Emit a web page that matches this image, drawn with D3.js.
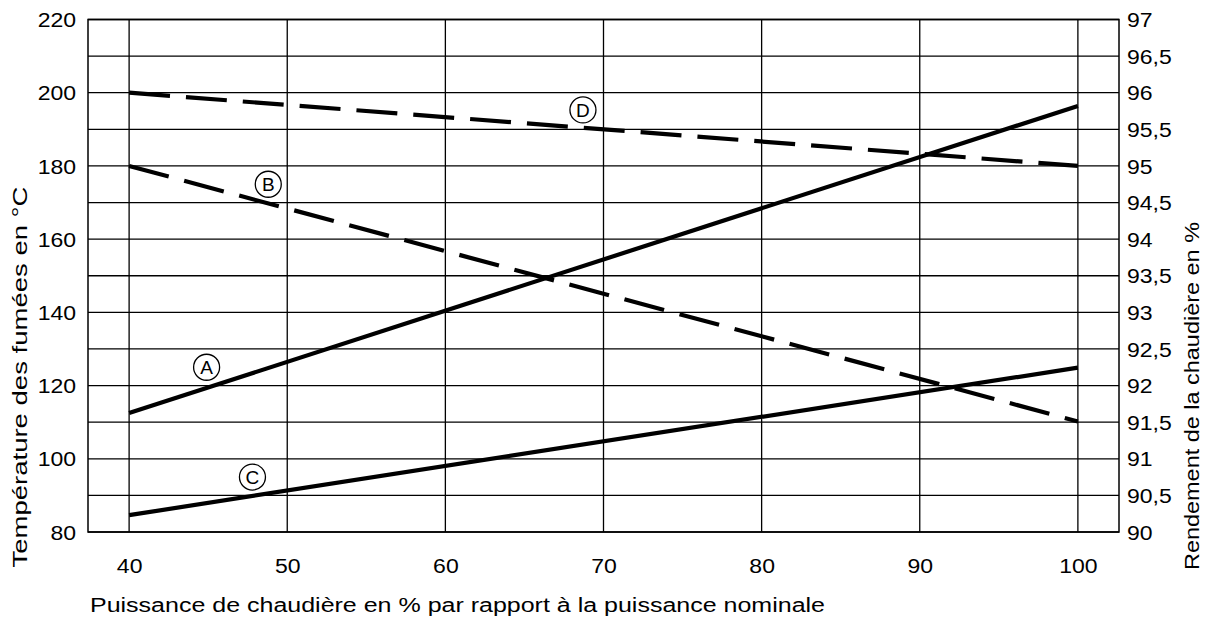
<!DOCTYPE html>
<html><head><meta charset="utf-8">
<script src="https://cdn.jsdelivr.net/npm/d3@7"></script>
<style>
html,body{margin:0;padding:0;background:#fff;}
text{font-family:"Liberation Sans",Arial,sans-serif;fill:#000;}
</style></head>
<body>
<svg id="c" width="1206" height="619"></svg>
<script>
// Data
const xValues = [40, 100];
const seriesA = [112.5, 196.4];   // solid
const seriesB = [180, 110.2];     // dashed
const seriesC = [84.6, 124.9];    // solid
const seriesD = [200, 180];       // dashed
const seriesNames = ["A", "B", "C", "D"];
const labelX = [44.9, 48.8, 47.8, 68.7];
const labelY = [125, 175, 95, 195.3];
const xTicks = [40, 50, 60, 70, 80, 90, 100];
const leftTicks = [80, 100, 120, 140, 160, 180, 200, 220];
const gridY = [80, 90, 100, 110, 120, 130, 140, 150, 160, 170, 180, 190, 200, 210, 220];
const rightTicks = [90, 90.5, 91, 91.5, 92, 92.5, 93, 93.5, 94, 94.5, 95, 95.5, 96, 96.5, 97];

const svg = d3.select("#c");
const L = 88, R = 1119, T = 19.5, B = 532;
const x = d3.scaleLinear().domain([37.4, 102.6]).range([L, R]);
const y = d3.scaleLinear().domain([80, 220]).range([B, T]);
const y2 = d3.scaleLinear().domain([90, 97]).range([B, T]);

function stretch(sel, k) {
  sel.each(function () {
    const w = this.getComputedTextLength();
    d3.select(this).attr("textLength", w * k).attr("lengthAdjust", "spacingAndGlyphs");
  });
}

// grid
const g = svg.append("g");
g.selectAll("line.h").data(gridY).join("line")
  .attr("x1", L).attr("x2", R).attr("y1", d => y(d)).attr("y2", d => y(d))
  .attr("stroke", "#000").attr("stroke-width", 1.3);
g.selectAll("line.v").data(xTicks).join("line")
  .attr("x1", d => x(d)).attr("x2", d => x(d)).attr("y1", T).attr("y2", B)
  .attr("stroke", "#000").attr("stroke-width", 1.3);
g.append("rect").attr("x", L).attr("y", T).attr("width", R - L).attr("height", B - T)
  .attr("fill", "none").attr("stroke", "#000").attr("stroke-width", 1.5);

// axes
const fs = 20, k = 1.15;
const ff = "Liberation Sans, Arial, sans-serif";
const xAxis = d3.axisBottom(x).tickValues(xTicks).tickSize(0).tickPadding(0);
const gx = svg.append("g").attr("transform", `translate(0,${B})`).call(xAxis);
gx.select(".domain").remove();
gx.selectAll("text").attr("dy", 0).attr("y", 41).style("font-size", fs + "px").style("font-family", ff).attr("fill", "#000");
stretch(gx.selectAll("text"), k);

const yAxis = d3.axisLeft(y).tickValues(leftTicks).tickSize(0).tickPadding(12);
const gy = svg.append("g").attr("transform", `translate(${L},0)`).call(yAxis);
gy.select(".domain").remove();
gy.selectAll("text").style("font-size", fs + "px").style("font-family", ff).attr("fill", "#000").attr("dy", "0.36em");
stretch(gy.selectAll("text"), k);

const y2Axis = d3.axisRight(y2).tickValues(rightTicks).tickSize(0).tickPadding(8)
  .tickFormat(d => String(d).replace(".", ","));
const gy2 = svg.append("g").attr("transform", `translate(${R},0)`).call(y2Axis);
gy2.select(".domain").remove();
gy2.selectAll("text").style("font-size", fs + "px").style("font-family", ff).attr("fill", "#000").attr("dy", "0.36em");
stretch(gy2.selectAll("text"), k);

// titles
svg.append("text").attr("x", 90).attr("y", 612).style("font-size", "20px")
  .attr("textLength", 735).attr("lengthAdjust", "spacingAndGlyphs")
  .text("Puissance de chaudière en % par rapport à la puissance nominale");
svg.append("text").attr("transform", "translate(27,377) rotate(-90)").attr("text-anchor", "middle")
  .style("font-size", "20px").attr("textLength", 381).attr("lengthAdjust", "spacingAndGlyphs")
  .text("Température des fumées en °C");
svg.append("text").attr("transform", "translate(1199,396) rotate(-90)").attr("text-anchor", "middle")
  .style("font-size", "20px").attr("textLength", 348).attr("lengthAdjust", "spacingAndGlyphs")
  .text("Rendement de la chaudière en %");

// lines
const line = d3.line().x((d, i) => x(xValues[i])).y(d => y(d));
const series = [seriesA, seriesB, seriesC, seriesD];
const dashed = [false, true, false, true];
series.forEach((s, i) => {
  svg.append("path").datum(s).attr("d", line).attr("fill", "none")
    .attr("stroke", "#000").attr("stroke-width", 4.2)
    .attr("stroke-dasharray", dashed[i] ? "41,16" : null);
});

// circled labels
seriesNames.forEach((n, i) => {
  const cx = x(labelX[i]), cy = y(labelY[i]);
  svg.append("circle").attr("cx", cx).attr("cy", cy).attr("r", 13)
    .attr("fill", "#fff").attr("stroke", "#000").attr("stroke-width", 1.3);
  svg.append("text").attr("x", cx).attr("y", cy).attr("dy", "0.36em")
    .attr("text-anchor", "middle").style("font-size", "19px").text(n);
});
</script>
</body></html>
